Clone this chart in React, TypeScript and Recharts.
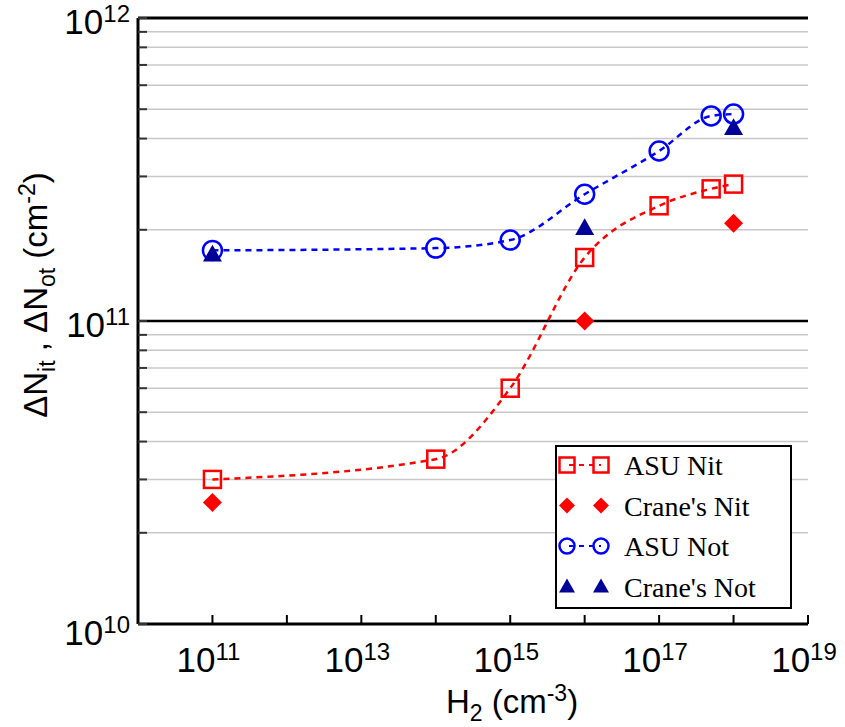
import { ComposedChart, Line, XAxis, YAxis, CartesianGrid, ReferenceLine, Legend } from 'recharts'

// H2 concentration (cm^-3) and defect densities (cm^-2)
const asuH2 = [1e11, 1e14, 1e15, 1e16, 1e17, 5e17, 1e18]
const asuNit = [3.0e10, 3.5e10, 6.0e10, 1.62e11, 2.4e11, 2.73e11, 2.83e11]
const asuNot = [1.71e11, 1.74e11, 1.85e11, 2.62e11, 3.64e11, 4.75e11, 4.82e11]

const craneH2 = [1e11, 1e16, 1e18]
const craneNit = [2.52e10, 1.0e11, 2.1e11]
const craneNot = [1.66e11, 2.03e11, 4.34e11]

const xTicks = [1e10, 1e11, 1e12, 1e13, 1e14, 1e15, 1e16, 1e17, 1e18, 1e19]
const xLabelExps = [11, 13, 15, 17, 19]
const yTicks = [
  1e10, 2e10, 3e10, 4e10, 5e10, 6e10, 7e10, 8e10, 9e10,
  1e11, 2e11, 3e11, 4e11, 5e11, 6e11, 7e11, 8e11, 9e11, 1e12,
]

const RED = '#ff0000'
const BLUE = '#0000ff'
const NAVY = '#000099'
const SANS = '"Liberation Sans", Arial, sans-serif'
const SERIF = '"Liberation Serif", "Times New Roman", serif'

const zip = (xs: number[], ys: number[]) => xs.map((x, i) => ({ x, y: ys[i] }))
const asuNitData = zip(asuH2, asuNit)
const asuNotData = zip(asuH2, asuNot)
const craneNitData = zip(craneH2, craneNit)
const craneNotData = zip(craneH2, craneNot)

// marker shapes
function Square({ cx, cy, s = 17, color = RED }: any) {
  return <rect x={cx - s / 2} y={cy - s / 2} width={s} height={s} fill="none" stroke={color} strokeWidth={2.5} />
}
function Circle({ cx, cy, r = 9.5, color = BLUE }: any) {
  return <circle cx={cx} cy={cy} r={r} fill="none" stroke={color} strokeWidth={2.5} />
}
function Diamond({ cx, cy, s = 9.5, color = RED }: any) {
  return <path d={`M${cx},${cy - s}L${cx + s},${cy}L${cx},${cy + s}L${cx - s},${cy}Z`} fill={color} />
}
function Triangle({ cx, cy, s = 9.5, color = NAVY }: any) {
  return <path d={`M${cx},${cy - s}L${cx + s},${cy + s * 0.75}L${cx - s},${cy + s * 0.75}Z`} fill={color} />
}

const dot = (Shape: any) => (p: any) => (
  <g key={`d-${p.index}`}>
    <Shape cx={p.cx} cy={p.cy} />
  </g>
)

function XTick({ x, y, payload }: any) {
  const exp = Math.round(Math.log10(payload.value))
  return (
    <g>
      <line x1={x} y1={y} x2={x} y2={y - 9} stroke="#000" strokeWidth={2} />
      {xLabelExps.includes(exp) && (
        <text x={x - 4} y={y + 48} textAnchor="middle" fontFamily={SANS} fontSize={35} fill="#000">
          10<tspan fontSize={24} dy={-12}>{exp}</tspan>
        </text>
      )}
    </g>
  )
}

function YTick({ x, y, payload }: any) {
  const v = payload.value
  const exp = Math.log10(v)
  const major = Math.abs(exp - Math.round(exp)) < 1e-9
  return (
    <g>
      <line x1={x} y1={y} x2={x + 9} y2={y} stroke="#333" strokeWidth={2} />
      {major && (
        <text x={x - 8} y={y + (Math.round(exp) === 10 ? 21 : 16)} textAnchor="end" fontFamily={SANS} fontSize={35} fill="#000">
          10<tspan fontSize={24} dy={-12}>{Math.round(exp)}</tspan>
        </text>
      )}
    </g>
  )
}

function YTitle() {
  return (
    <text transform="translate(47,295) rotate(-90)" textAnchor="middle" fontFamily={SANS} fontSize={33} fill="#000">
      ΔN<tspan fontSize={23} dy={8}>it</tspan>
      <tspan dy={-8}> , ΔN</tspan>
      <tspan fontSize={23} dy={8}>ot</tspan>
      <tspan dy={-8}> (cm</tspan>
      <tspan fontSize={23} dy={-12}>-2</tspan>
      <tspan dy={12}>)</tspan>
    </text>
  )
}

function XTitle() {
  return (
    <text x={512} y={713} textAnchor="middle" fontFamily={SANS} fontSize={33} fill="#000">
      H<tspan fontSize={23} dy={8}>2</tspan>
      <tspan dy={-8}> (cm</tspan>
      <tspan fontSize={23} dy={-12}>-3</tspan>
      <tspan dy={12}>)</tspan>
    </text>
  )
}

const legendRows = [
  { name: 'ASU Nit', Shape: Square, color: RED, line: true },
  { name: "Crane's Nit", Shape: Diamond, color: RED, line: false },
  { name: 'ASU Not', Shape: Circle, color: BLUE, line: true },
  { name: "Crane's Not", Shape: Triangle, color: NAVY, line: false },
]

function LegendBox() {
  return (
    <svg width={237} height={164} style={{ display: 'block' }}>
      <rect x={1} y={1} width={235} height={162} fill="#fff" stroke="#000" strokeWidth={2} />
      {legendRows.map((r, i) => {
        const cy = 20 + i * 40.5
        return (
          <g key={r.name}>
            {r.line && (
              <line x1={12} y1={cy} x2={46} y2={cy} stroke={r.color} strokeWidth={2} strokeDasharray="5 5" strokeDashoffset={-2} />
            )}
            <r.Shape cx={12} cy={cy} s={r.Shape === Square ? 15 : 8} r={7.5} color={r.color} />
            <r.Shape cx={46} cy={cy} s={r.Shape === Square ? 15 : 8} r={7.5} color={r.color} />
            <text x={69} y={cy + 10} fontFamily={SERIF} fontSize={28} fill="#000">
              {r.name}
            </text>
          </g>
        )
      })}
    </svg>
  )
}

export default function App() {
  return (
    <div style={{ position: 'absolute', left: 0, top: 0, background: '#fff' }}>
      <ComposedChart width={845} height={727} margin={{ top: 18, right: 37, bottom: 0, left: 0 }}>
        <CartesianGrid vertical={false} stroke="#c8c8c8" strokeWidth={1.5} />
        <XAxis
          dataKey="x"
          type="number"
          scale="log"
          domain={[1e10, 1e19]}
          ticks={xTicks}
          allowDataOverflow
          interval={0}
          height={103}
          tickSize={0}
          tickMargin={0}
          tickLine={false}
          axisLine={{ stroke: '#000', strokeWidth: 3 }}
          tick={<XTick />}
          label={{ content: <XTitle /> }}
        />
        <YAxis
          dataKey="y"
          type="number"
          scale="log"
          domain={[1e10, 1e12]}
          ticks={yTicks}
          allowDataOverflow
          interval={0}
          width={138}
          tickSize={0}
          tickMargin={0}
          tickLine={false}
          axisLine={{ stroke: '#000', strokeWidth: 3 }}
          tick={<YTick />}
          label={{ content: <YTitle /> }}
        />
        <ReferenceLine y={1e11} stroke="#000" strokeWidth={2.5} />
        <ReferenceLine y={1e12} stroke="#000" strokeWidth={3} />
        <Line
          data={asuNitData}
          dataKey="y"
          type="monotone"
          stroke={RED}
          strokeWidth={2.5}
          strokeDasharray="6 5"
          dot={dot(Square)}
          activeDot={false}
          isAnimationActive={false}
        />
        <Line
          data={craneNitData}
          dataKey="y"
          stroke="none"
          dot={dot(Diamond)}
          activeDot={false}
          isAnimationActive={false}
        />
        <Line
          data={asuNotData}
          dataKey="y"
          type="monotone"
          stroke={BLUE}
          strokeWidth={2.5}
          strokeDasharray="6 5"
          dot={dot(Circle)}
          activeDot={false}
          isAnimationActive={false}
        />
        <Line
          data={craneNotData}
          dataKey="y"
          stroke="none"
          dot={dot(Triangle)}
          activeDot={false}
          isAnimationActive={false}
        />
        <Legend
          layout="horizontal"
          verticalAlign="middle"
          align="center"
          wrapperStyle={{ left: 555, top: 445, width: 237, height: 164 }}
          content={() => <LegendBox />}
        />
      </ComposedChart>
    </div>
  )
}
